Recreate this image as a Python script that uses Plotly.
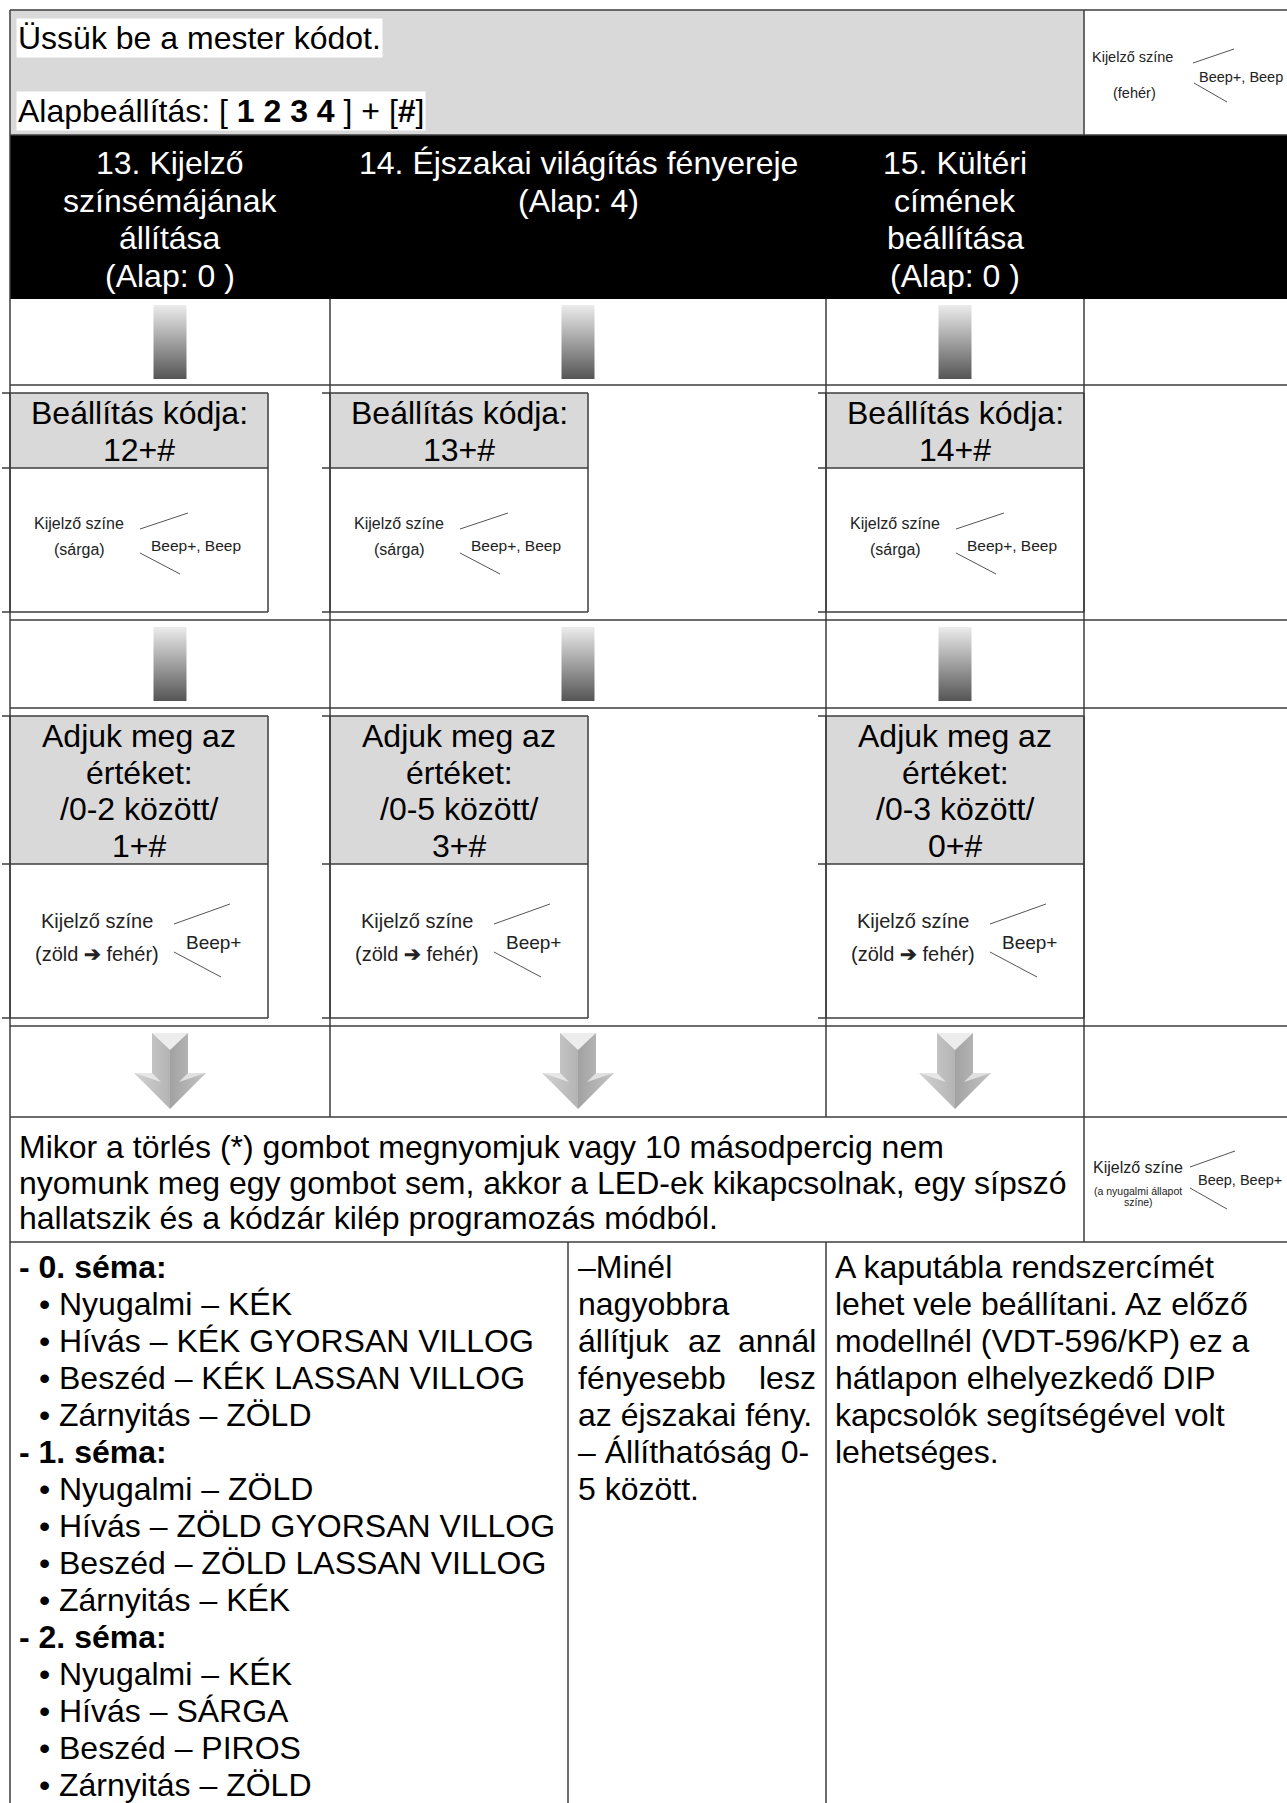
import plotly.graph_objects as go

# ------------------------------------------------------------------
# Text content (data)
# ------------------------------------------------------------------
intro_text = "Üssük be a mester kódot."
default_code_text = "Alapbeállítás: [ <b>1 2 3 4</b> ] + [<b>#</b>]"

menu_titles = [
    ["13. Kijelző", "színsémájának", "állítása", "(Alap: 0 )"],
    ["14. Éjszakai világítás fényereje", "(Alap: 4)"],
    ["15. Kültéri", "címének", "beállítása", "(Alap: 0 )"],
]

code_label = "Beállítás kódja:"
setting_codes = ["12+#", "13+#", "14+#"]

value_prompt = ["Adjuk meg az", "értéket:"]
value_ranges = ["/0-2 között/", "/0-5 között/", "/0-3 között/"]
value_examples = ["1+#", "3+#", "0+#"]

display_label = "Kijelző színe"
start_color = "(fehér)"
start_beep = "Beep+, Beep"
code_color = "(sárga)"
code_beep = "Beep+, Beep"
value_color = "(zöld <b>➔</b> fehér)"
value_beep = "Beep+"
exit_color = ["(a nyugalmi állapot", "színe)"]
exit_beep = "Beep, Beep+"

exit_lines = [
    "Mikor a törlés (*) gombot megnyomjuk vagy 10 másodpercig nem",
    "nyomunk meg egy gombot sem, akkor a LED-ek kikapcsolnak, egy sípszó",
    "hallatszik és a kódzár kilép programozás módból.",
]

scheme_titles = ["- 0. séma:", "- 1. séma:", "- 2. séma:"]
scheme_items = [
    ["Nyugalmi – KÉK", "Hívás – KÉK GYORSAN VILLOG",
     "Beszéd – KÉK LASSAN VILLOG", "Zárnyitás – ZÖLD"],
    ["Nyugalmi – ZÖLD", "Hívás – ZÖLD GYORSAN VILLOG",
     "Beszéd – ZÖLD LASSAN VILLOG", "Zárnyitás – KÉK"],
    ["Nyugalmi – KÉK", "Hívás – SÁRGA", "Beszéd – PIROS", "Zárnyitás – ZÖLD"],
]

brightness_lines = ["–Minél", "nagyobbra", "állítjuk az annál", "fényesebb lesz",
                    "az éjszakai fény.", "– Állíthatóság 0-", "5 között."]
brightness_justified = [False, False, True, True, False, False, False]

address_lines = ["A kaputábla rendszercímét", "lehet vele beállítani. Az előző",
                 "modellnél (VDT-596/KP) ez a", "hátlapon elhelyezkedő DIP",
                 "kapcsolók segítségével volt", "lehetséges."]

# ------------------------------------------------------------------
# Layout geometry (page pixels)
# ------------------------------------------------------------------
W, H = 1287, 1803
FONT = "Liberation Sans, Arial, sans-serif"
BIG = 32
GRID = "#3c3c3c"
GRAYFILL = "#d9d9d9"

XL = 10                     # outer left border
COLS = [10, 330, 826, 1084]  # column boundaries of the flow part
COL_CENTERS = [(COLS[i] + COLS[i + 1]) / 2 for i in range(3)]
BOX_W = 258
Y_TOP, Y_HEAD, Y_HEAD_END = 10, 135, 299
Y_ROW1, Y_ROW2, Y_ROW3, Y_ROW4, Y_ROW5, Y_ROW6 = 385, 620, 708, 1026, 1117, 1242
CODE_BOX = (393, 468, 612)    # gray top, split, white bottom
VALUE_BOX = (716, 864, 1018)
BOTTOM_COLS = [10, 568, 826]

fig = go.Figure()
shapes = []


def hline(y, x0, x1, color=GRID, w=1.5):
    shapes.append(dict(type="line", x0=x0, x1=x1, y0=y, y1=y,
                       line=dict(color=color, width=w), layer="above"))


def vline(x, y0, y1, color=GRID, w=1.5):
    shapes.append(dict(type="line", x0=x, x1=x, y0=y0, y1=y1,
                       line=dict(color=color, width=w), layer="above"))


def rect(x0, y0, x1, y1, fill, line_color=None, w=0):
    shapes.append(dict(type="rect", x0=x0, x1=x1, y0=y0, y1=y1, fillcolor=fill,
                       line=dict(color=line_color or fill, width=w), layer="below"))


def seg(x0, y0, x1, y1, color="#555555", w=1):
    shapes.append(dict(type="line", x0=x0, x1=x1, y0=y0, y1=y1,
                       line=dict(color=color, width=w), layer="above"))


def txt(x, y, s, size=BIG, color="black", xanchor="center", bg=None):
    fig.add_annotation(x=x, y=y, xref="x", yref="y", text=s, showarrow=False,
                       xanchor=xanchor, yanchor="middle", bgcolor=bg, borderpad=1,
                       font=dict(family=FONT, size=size, color=color))


def poly(xs, ys, fill=None, gradient=None):
    kw = dict(x=xs + [xs[0]], y=ys + [ys[0]], mode="lines", fill="toself",
              line=dict(width=0), hoverinfo="skip", showlegend=False)
    if gradient is not None:
        kw["fillgradient"] = gradient
    else:
        kw["fillcolor"] = fill
    fig.add_trace(go.Scatter(**kw))


# ---- backgrounds ----
rect(XL, Y_TOP, COLS[3], Y_HEAD, GRAYFILL)
rect(XL, Y_HEAD, W + 5, Y_HEAD_END, "black")

# ---- grid lines ----
for y in [Y_TOP, Y_ROW1, Y_ROW2, Y_ROW3, Y_ROW4, Y_ROW5, Y_ROW6]:
    hline(y, XL, W + 5)
hline(Y_HEAD, XL, W + 5)
vline(XL, Y_TOP, H + 5)
vline(COLS[1], Y_HEAD_END, Y_ROW5)
vline(COLS[2], Y_HEAD_END, Y_ROW5)
vline(COLS[3], Y_TOP, Y_HEAD)
vline(COLS[3], Y_HEAD_END, Y_ROW6)
vline(BOTTOM_COLS[1], Y_ROW6, H + 5)
vline(BOTTOM_COLS[2], Y_ROW6, H + 5)

# ---- intro ----
txt(16, 38, intro_text, xanchor="left", bg="white")
txt(16, 111, default_code_text, xanchor="left", bg="white")

# top-right feedback cell
txt(1132, 57, display_label, size=14.5, color="#222")
txt(1134, 93, start_color, size=14.5, color="#222")
txt(1241, 77, start_beep, size=14.5, color="#222")
seg(1193, 63, 1234, 49)
seg(1194, 83, 1227, 102)

# ---- header titles ----
for c, lines in enumerate(menu_titles):
    for i, s in enumerate(lines):
        txt(COL_CENTERS[c], 163 + i * 37.5, s, color="white")

# ---- gradient connectors (axis is reversed: 0 = bottom, 1 = top) ----
grad = dict(type="vertical", colorscale=[[0, "#555555"], [1, "#ececec"]])
for (gy0, gy1) in [(305, 379), (627, 701)]:
    for cx in COL_CENTERS:
        poly([cx - 16.5, cx + 16.5, cx + 16.5, cx - 16.5], [gy0, gy0, gy1, gy1],
             gradient=grad)

# ---- boxes ----
for c in range(3):
    bx = COLS[c]
    for (gt, mid, wb), glines in [
        (CODE_BOX, [code_label, setting_codes[c]]),
        (VALUE_BOX, value_prompt + [value_ranges[c], value_examples[c]]),
    ]:
        rect(bx, gt, bx + BOX_W, mid, GRAYFILL)
        for y in (gt, mid, wb):
            hline(y, bx - 8, bx + BOX_W)
        vline(bx, gt, wb)
        vline(bx + BOX_W, gt, wb)
        n = len(glines)
        cy = (gt + mid) / 2
        for i, s in enumerate(glines):
            txt(bx + BOX_W / 2, cy + (i - (n - 1) / 2) * 36.8 + 1, s)

    # feedback in the code box
    wt = CODE_BOX[1]
    txt(bx + 69, wt + 55, display_label, size=16, color="#222")
    txt(bx + 69, wt + 81, code_color, size=16, color="#222")
    txt(bx + 186, wt + 77, code_beep, size=15.5, color="#222")
    seg(bx + 130, wt + 61, bx + 178, wt + 45)
    seg(bx + 130, wt + 85, bx + 170, wt + 106)

    # feedback in the value box
    wt = VALUE_BOX[1]
    txt(bx + 87, wt + 57, display_label, size=20, color="#222")
    txt(bx + 87, wt + 90, value_color, size=20, color="#222")
    txt(bx + 203, wt + 78, value_beep, size=19, color="#222")
    seg(bx + 164, wt + 60, bx + 220, wt + 40)
    seg(bx + 164, wt + 88, bx + 211, wt + 113)

# ---- down arrows ----
arrow_grad = dict(type="horizontal",
                  colorscale=[[0, "#d2d2d2"], [0.5, "#b4b4b4"], [0.5, "#a2a2a2"], [1, "#c4c4c4"]])
ay0 = 1033
for cx in COL_CENTERS:
    poly([cx - 18, cx + 18, cx + 18, cx + 36, cx, cx - 36, cx - 18],
         [ay0, ay0, ay0 + 40, ay0 + 40, ay0 + 76, ay0 + 40, ay0 + 40],
         gradient=arrow_grad)
    poly([cx - 18, cx + 18, cx], [ay0, ay0, ay0 + 17], fill="#ededed")
    poly([cx - 36, cx - 18, cx - 9], [ay0 + 40, ay0 + 40, ay0 + 49], fill="#e6e6e6")
    poly([cx + 18, cx + 36, cx + 9], [ay0 + 40, ay0 + 40, ay0 + 49], fill="#e0e0e0")

# ---- exit row ----
for i, s in enumerate(exit_lines):
    txt(17, 1147 + i * 35.5, s, xanchor="left")
txt(1138, 1167, display_label, size=16, color="#222")
txt(1138, 1191, exit_color[0], size=10.5, color="#222")
txt(1138, 1202, exit_color[1], size=10.5, color="#222")
txt(1240, 1180, exit_beep, size=14.5, color="#222")
seg(1190, 1167, 1235, 1151)
seg(1190, 1188, 1227, 1209)

# ---- bottom: colour schemes ----
LINE_H = 37.0
Y0 = 1266.5
row = 0
for t, items in zip(scheme_titles, scheme_items):
    txt(17, Y0 + row * LINE_H, "<b>" + t + "</b>", xanchor="left")
    row += 1
    for it in items:
        txt(37, Y0 + row * LINE_H, "•", xanchor="left")
        txt(57, Y0 + row * LINE_H, it, xanchor="left")
        row += 1

# ---- bottom: brightness (justified column) ----
bL, bR = 576, 818
for i, (s, just) in enumerate(zip(brightness_lines, brightness_justified)):
    y = Y0 + i * LINE_H
    if just:
        words = s.split(" ")
        n = len(words)
        for k, wd in enumerate(words):
            if k == 0:
                txt(bL, y, wd, xanchor="left")
            elif k == n - 1:
                txt(bR, y, wd, xanchor="right")
            else:
                txt(bL + (bR - bL) * k / (n - 1) + 8, y, wd)
    else:
        txt(bL, y, s, xanchor="left")

# ---- bottom: address column ----
for i, s in enumerate(address_lines):
    txt(833, Y0 + i * LINE_H, s, xanchor="left")

fig.update_layout(
    width=W, height=H, margin=dict(l=0, r=0, t=0, b=0),
    paper_bgcolor="white", plot_bgcolor="white",
    xaxis=dict(range=[0, W], visible=False, fixedrange=True),
    yaxis=dict(range=[H, 0], visible=False, fixedrange=True),
    shapes=shapes, showlegend=False,
)

fig.write_html("out.html", config={"displayModeBar": False},
               post_script="document.body.style.margin='0px';")
